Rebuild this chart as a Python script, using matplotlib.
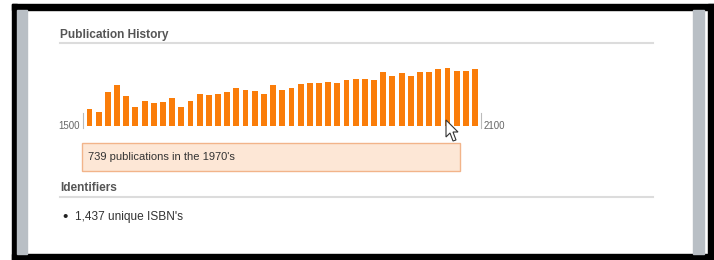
import matplotlib
matplotlib.use("Agg")
import matplotlib.pyplot as plt
from matplotlib.patches import Rectangle, Polygon

plt.rcParams['font.family'] = ['Liberation Sans Narrow', 'Liberation Sans', 'DejaVu Sans']

# publications per decade, 1580s .. 2000s
decades = [1580 + 10 * i for i in range(43)]
counts = [217, 178, 433, 522, 382, 242, 319, 293, 306, 357,
          242, 319, 408, 395, 408, 433, 484, 459, 446, 408,
          522, 459, 484, 535, 548, 548, 561, 548, 586, 599,
          599, 586, 688, 637, 675, 637, 688, 688, 726, 739,
          701, 701, 726]
axis_labels = ["1500", "2100"]
tooltip = "739 publications in the 1970's"
isbn_text = "1,437 unique ISBN's"

W, H = 714, 260
fig = plt.figure(figsize=(W / 100, H / 100), dpi=100)
fig.patch.set_facecolor('white')

# page decorations drawn in pixel coords
bg = fig.add_axes([0, 0, 1, 1])
bg.set_xlim(0, W)
bg.set_ylim(H, 0)
bg.axis('off')

bg.add_patch(Rectangle((12, 4), W - 12, 6, color='black'))           # top border
bg.add_patch(Rectangle((12, 4), 5, H - 4, color='black'))            # left border
bg.add_patch(Rectangle((708, 4), 6, H - 4, color='black'))           # right border
bg.add_patch(Rectangle((12, 254), W - 12, 6, color='black'))         # bottom border
bg.add_patch(Rectangle((17, 10), 10, 244, color='#b9bfc5'))          # left grey bar
bg.add_patch(Rectangle((693, 10), 11, 244, color='#b9bfc5'))         # right grey bar

bg.text(60, 35, "Publication History", fontsize=8.6, fontweight='bold',
        color='#555555', va='center', ha='left')
bg.plot([60, 653], [43, 43], color='#dcdcdc', lw=1.5)

bg.text(60, 188, "Identifiers", fontsize=8.6, fontweight='bold',
        color='#555555', va='center', ha='left')
bg.plot([60, 653], [197, 197], color='#dcdcdc', lw=1.5)

bg.text(65, 217, "\u2022", fontsize=11, color='#222222', va='center', ha='center')
bg.text(75, 217, isbn_text, fontsize=8.6, color='#333333', va='center', ha='left')

# tooltip box
bg.add_patch(Rectangle((82, 143), 378, 28, facecolor='#fde7d6',
                       edgecolor='#f2b48a', lw=1))
bg.text(88, 157, tooltip, fontsize=8, color='#333333', va='center', ha='left')

# axis end markers
bg.plot([83, 83], [113, 128], color='#bbbbbb', lw=0.8)
bg.plot([481, 481], [113, 128], color='#bbbbbb', lw=0.8)
bg.text(80, 126, axis_labels[0], fontsize=7, color='#666666', va='center', ha='right')
bg.text(484, 126, axis_labels[1], fontsize=7, color='#666666', va='center', ha='left')

# bar chart
ax = fig.add_axes([83 / W, 1 - 126 / H, (481 - 83) / W, 66 / H])
ax.set_facecolor('none')
xs = list(range(len(counts)))
ax.bar(xs, counts, width=0.64, color='#fa7d0a')
ax.set_xlim(-0.708, 42.65)
ax.set_ylim(0, 739 * 66 / 58)
ax.axis('off')

# mouse pointer
cursor = Polygon([(446, 120), (446, 137), (450, 133), (453, 141), (456, 140),
                  (453, 132), (458, 132)], closed=True, facecolor='white',
                 edgecolor='#333333', lw=0.8, zorder=10)
bg2 = fig.add_axes([0, 0, 1, 1], zorder=5)
bg2.set_xlim(0, W)
bg2.set_ylim(H, 0)
bg2.axis('off')
bg2.add_patch(cursor)

fig.savefig('out.png', dpi=100)
